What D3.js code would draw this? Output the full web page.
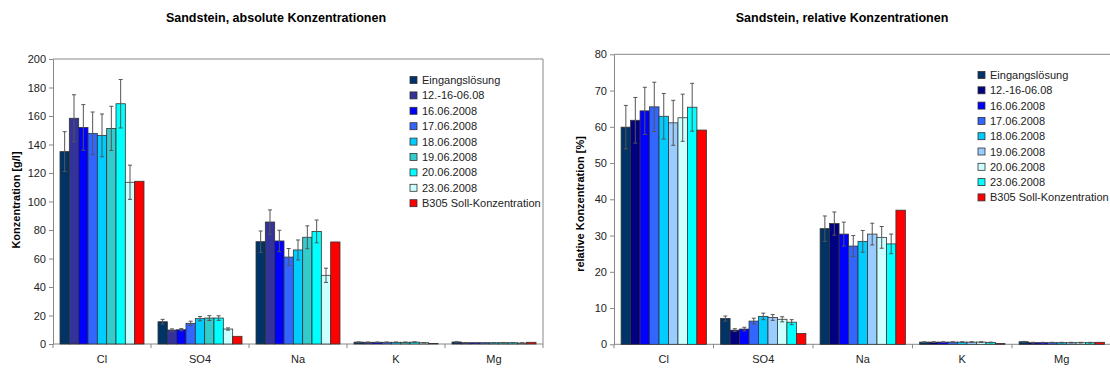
<!DOCTYPE html>
<html>
<head>
<meta charset="utf-8">
<script src="https://cdn.jsdelivr.net/npm/d3@7"></script>
<style>
  html, body { margin: 0; padding: 0; background: #fff; }
  svg { display: block; font-family: "Liberation Sans", Arial, sans-serif; }
</style>
</head>
<body>
<svg id="chart" width="1110" height="370"></svg>
<script>
// Ions on the x axis
const categories = ["Cl", "SO4", "Na", "K", "Mg"];

// Sampling series (legend order)
const seriesNames = ["Eingangslösung", "12.-16-06.08", "16.06.2008", "17.06.2008",
  "18.06.2008", "19.06.2008", "20.06.2008", "23.06.2008", "B305 Soll-Konzentration"];

// Absolute concentrations [g/l], one row per series, columns follow categories
const absValues = [
  [135.0, 15.6, 71.8, 1.3, 1.4],
  [158.4,  9.8, 85.6, 1.2, 0.9],
  [152.0, 10.0, 72.3, 1.2, 0.9],
  [147.8, 14.5, 61.0, 1.2, 0.9],
  [146.4, 17.8, 66.0, 1.2, 0.9],
  [151.3, 18.2, 74.9, 1.2, 0.9],
  [168.6, 18.2, 79.0, 1.3, 0.9],
  [113.5, 10.5, 48.2, 0.9, 0.7],
  [114.2,  5.4, 71.6, 0.4, 1.2]
];
const absErrors = [
  [14.0, 1.7, 7.5, 0.2, 0.2],
  [16.5, 0.8, 8.5, 0.2, 0.1],
  [16.0, 0.8, 7.5, 0.2, 0.1],
  [15.0, 1.5, 6.0, 0.2, 0.1],
  [15.0, 1.5, 7.0, 0.2, 0.1],
  [15.5, 1.7, 8.0, 0.2, 0.1],
  [17.0, 1.6, 8.0, 0.2, 0.1],
  [12.0, 0.8, 5.0, 0.1, 0.1],
  null
];

// Relative concentrations [%]
const relValues = [
  [59.9, 7.1, 31.9, 0.6, 0.7],
  [61.8, 3.9, 33.3, 0.6, 0.45],
  [64.4, 4.2, 30.4, 0.6, 0.45],
  [65.5, 6.4, 27.1, 0.6, 0.45],
  [62.9, 7.7, 28.4, 0.6, 0.45],
  [61.1, 7.4, 30.4, 0.6, 0.45],
  [62.5, 6.9, 29.5, 0.6, 0.45],
  [65.4, 6.1, 27.7, 0.5, 0.45],
  [59.1, 3.0, 37.0, 0.2, 0.55]
];
const relErrors = [
  [6.0, 0.7, 3.5, 0.1, 0.1],
  [6.3, 0.4, 3.2, 0.1, 0.1],
  [6.5, 0.5, 3.3, 0.1, 0.1],
  [6.8, 0.8, 2.9, 0.1, 0.1],
  [6.3, 0.9, 3.0, 0.1, 0.1],
  [6.2, 0.8, 3.0, 0.1, 0.1],
  [6.5, 0.7, 3.0, 0.1, 0.1],
  [6.6, 0.7, 2.7, 0.1, 0.1],
  null
];

const absTicks = [0, 20, 40, 60, 80, 100, 120, 140, 160, 180, 200];
const relTicks = [0, 10, 20, 30, 40, 50, 60, 70, 80];

const absColors = ["#003366", "#333399", "#0000FF", "#3366FF", "#00CCFF",
  "#33CCCC", "#00FFFF", "#CCFFFF", "#FF0000"];
const relColors = ["#003366", "#000080", "#0000FF", "#3366FF", "#00CCFF",
  "#99CCFF", "#CCFFFF", "#00FFFF", "#FF0000"];

const svg = d3.select("#chart");

function drawChart(opt) {
  const g = svg.append("g");
  const x = d3.scaleBand().domain(categories).range([opt.left, opt.right]);
  const gapRatio = 1.5; // gap between groups, in bar widths
  const barW = x.bandwidth() / (seriesNames.length + gapRatio);
  const x1 = d3.scaleBand().domain(d3.range(seriesNames.length))
    .range([barW * gapRatio / 2, x.bandwidth() - barW * gapRatio / 2]);
  const y = d3.scaleLinear().domain(opt.domain).range([opt.bottom, opt.top]);

  // plot frame (top and right)
  g.append("path")
    .attr("d", `M${opt.left},${opt.top}H${opt.right}V${opt.bottom}`)
    .attr("fill", "none").attr("stroke", "#888").attr("stroke-width", 1);

  // y axis
  const yAxis = g.append("g").attr("transform", `translate(${opt.left},0)`)
    .call(d3.axisLeft(y).tickValues(opt.ticks).tickSize(4).tickSizeOuter(0).tickPadding(3));
  yAxis.select(".domain").attr("stroke", "#888");
  yAxis.selectAll(".tick line").attr("stroke", "#888");
  yAxis.selectAll("text").attr("font-size", 11).attr("fill", "#222")
    .attr("font-family", "Liberation Sans, Arial, sans-serif");

  // x axis: ticks on category boundaries
  const xAxisG = g.append("g");
  xAxisG.append("line").attr("x1", opt.left).attr("x2", opt.right)
    .attr("y1", opt.bottom).attr("y2", opt.bottom).attr("stroke", "#888");
  xAxisG.selectAll("line.tk").data(categories.concat(["end"])).join("line")
    .attr("class", "tk")
    .attr("x1", (d, i) => opt.left + i * x.step())
    .attr("x2", (d, i) => opt.left + i * x.step())
    .attr("y1", opt.bottom).attr("y2", opt.bottom + 4).attr("stroke", "#888");
  xAxisG.selectAll("text").data(categories).join("text")
    .attr("x", d => x(d) + x.bandwidth() / 2)
    .attr("y", opt.bottom + 19)
    .attr("text-anchor", "middle").attr("font-size", 11).attr("fill", "#222")
    .text(d => d);

  // bars
  seriesNames.forEach((name, si) => {
    const sg = g.append("g");
    sg.selectAll("rect").data(categories).join("rect")
      .attr("x", (c) => x(c) + x1(si))
      .attr("width", x1.bandwidth())
      .attr("y", (c, ci) => y(opt.values[si][ci]))
      .attr("height", (c, ci) => y(0) - y(opt.values[si][ci]))
      .attr("fill", opt.colors[si])
      .attr("stroke", "#333").attr("stroke-width", 0.8);

    const errs = opt.errors[si];
    if (errs) {
      const cx = c => x(c) + x1(si) + x1.bandwidth() / 2;
      const eg = sg.append("g").attr("stroke", "#555").attr("stroke-width", 1);
      eg.selectAll("line.v").data(categories).join("line").attr("class", "v")
        .attr("x1", cx).attr("x2", cx)
        .attr("y1", (c, ci) => y(opt.values[si][ci] + errs[ci]))
        .attr("y2", (c, ci) => y(opt.values[si][ci] - errs[ci]));
      ["hi", "lo"].forEach((k, sign) => {
        eg.selectAll("line." + k).data(categories).join("line").attr("class", k)
          .attr("x1", c => cx(c) - 2).attr("x2", c => cx(c) + 2)
          .attr("y1", (c, ci) => y(opt.values[si][ci] + (sign ? -1 : 1) * errs[ci]))
          .attr("y2", (c, ci) => y(opt.values[si][ci] + (sign ? -1 : 1) * errs[ci]));
      });
    }
  });

  // title
  g.append("text").attr("x", opt.titleX).attr("y", 22)
    .attr("text-anchor", "middle").attr("font-size", 12.5).attr("font-weight", "bold")
    .attr("fill", "#000").text(opt.title);

  // y axis title
  g.append("text")
    .attr("transform", `translate(${opt.yLabelX},${opt.yLabelY}) rotate(-90)`)
    .attr("text-anchor", "middle").attr("font-size", 11).attr("font-weight", "bold")
    .attr("fill", "#000").text(opt.yLabel);

  // legend
  const lg = g.append("g");
  seriesNames.forEach((name, i) => {
    const ly = opt.legendY + i * opt.legendStep;
    lg.append("rect").attr("x", opt.legendX).attr("y", ly - 3.5)
      .attr("width", 7).attr("height", 7)
      .attr("fill", opt.colors[i]).attr("stroke", "#333").attr("stroke-width", 0.8);
    lg.append("text").attr("x", opt.legendX + 12).attr("y", ly + 4)
      .attr("font-size", 11).attr("fill", "#222").text(name);
  });
}

drawChart({
  left: 53, right: 543, top: 59, bottom: 344,
  domain: [0, 200], ticks: absTicks,
  values: absValues, errors: absErrors, colors: absColors,
  title: "Sandstein, absolute Konzentrationen", titleX: 276,
  yLabel: "Konzentration [g/l]", yLabelX: 20, yLabelY: 200,
  legendX: 410, legendY: 80, legendStep: 15.4
});

drawChart({
  left: 614, right: 1111.5, top: 54.3, bottom: 344.3,
  domain: [0, 80], ticks: relTicks,
  values: relValues, errors: relErrors, colors: relColors,
  title: "Sandstein, relative Konzentrationen", titleX: 842,
  yLabel: "relative Konzentration [%]", yLabelX: 584, yLabelY: 204,
  legendX: 978, legendY: 75, legendStep: 15.3
});
</script>
</body>
</html>
